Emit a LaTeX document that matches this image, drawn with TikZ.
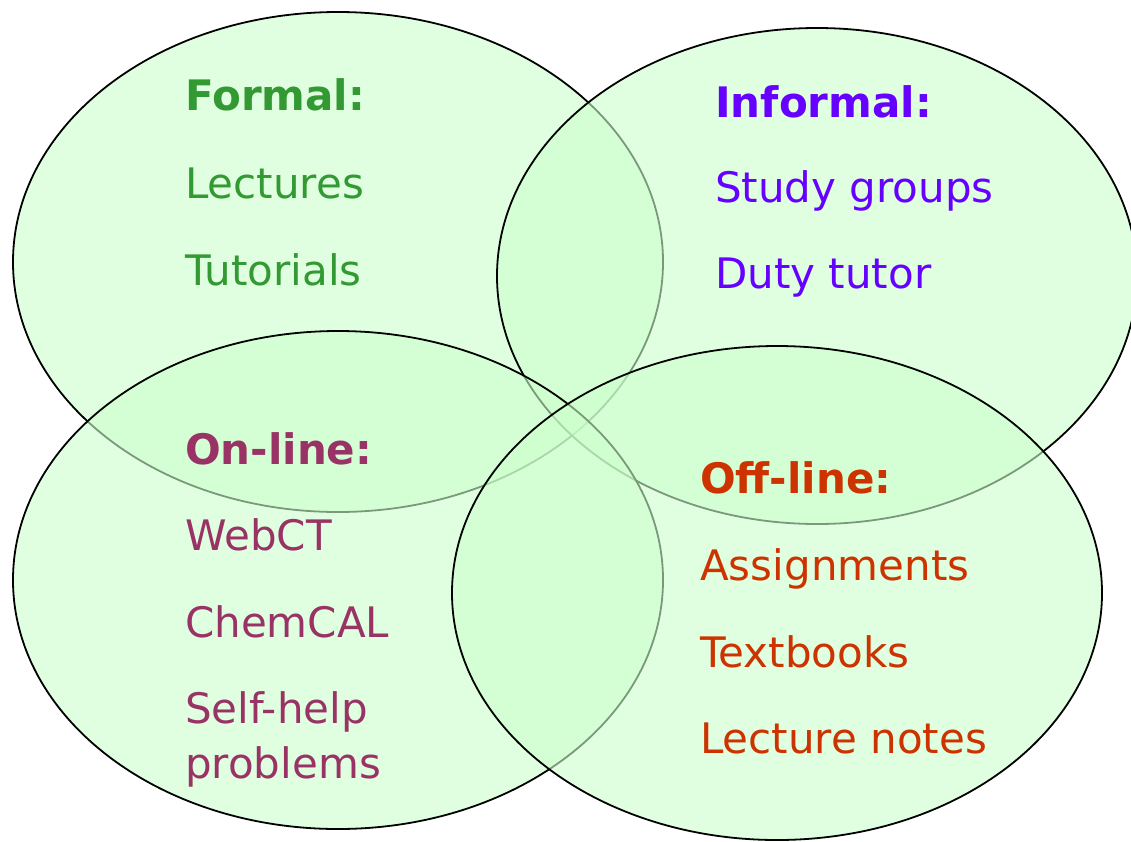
\documentclass[tikz,border=0pt]{standalone}
\usepackage{fontspec}
\setmainfont{DejaVu Sans}
\definecolor{vfill}{RGB}{204,255,204}
\definecolor{cformal}{RGB}{51,153,51}
\definecolor{cinformal}{RGB}{102,0,255}
\definecolor{conline}{RGB}{153,51,102}
\definecolor{coffline}{RGB}{204,51,0}
\tikzset{
  setshape/.style={draw=black, line width=1.8pt, fill=vfill, fill opacity=0.6},
  lbl/.style={anchor=base west, inner sep=0pt, font=\fontsize{42}{48}\selectfont},
  ttl/.style={lbl, font=\fontsize{42}{48}\selectfont\bfseries}
}
\begin{document}
\begin{tikzpicture}[x=1pt,y=-1pt]
\useasboundingbox (0,0) rectangle (1131,841);
\clip (0,0) rectangle (1131,841);
\fill[white] (0,0) rectangle (1131,841);
% sets
\draw[setshape] (338,262) ellipse [x radius=325pt, y radius=250pt];
\draw[setshape] (817,276) ellipse [x radius=320pt, y radius=248pt];
\draw[setshape] (338,580) ellipse [x radius=325pt, y radius=249pt];
\draw[setshape] (777,593) ellipse [x radius=325pt, y radius=247pt];
% Formal
\node[ttl, text=cformal] (formal) at (185,110) {Formal:};
\node[lbl, text=cformal] (lectures) at (185,198) {Lectures};
\node[lbl, text=cformal] (tutorials) at (185,285) {Tutorials};
% Informal
\node[ttl, text=cinformal] (informal) at (715,117) {Informal:};
\node[lbl, text=cinformal] (study) at (715,202) {Study groups};
\node[lbl, text=cinformal] (duty) at (715,288) {Duty tutor};
% On-line
\node[ttl, text=conline] (online) at (185,464) {On-line:};
\node[lbl, text=conline] (webct) at (185,550) {WebCT};
\node[lbl, text=conline] (chemcal) at (185,637) {ChemCAL};
\node[lbl, text=conline] (selfhelp) at (185,723) {Self-help};
\node[lbl, text=conline] (problems) at (185,778) {problems};
% Off-line
\node[ttl, text=coffline] (offline) at (700,493) {Off-line:};
\node[lbl, text=coffline] (assign) at (700,580) {Assignments};
\node[lbl, text=coffline] (textbooks) at (700,667) {Textbooks};
\node[lbl, text=coffline] (lnotes) at (700,753) {Lecture notes};
\end{tikzpicture}
\end{document}
